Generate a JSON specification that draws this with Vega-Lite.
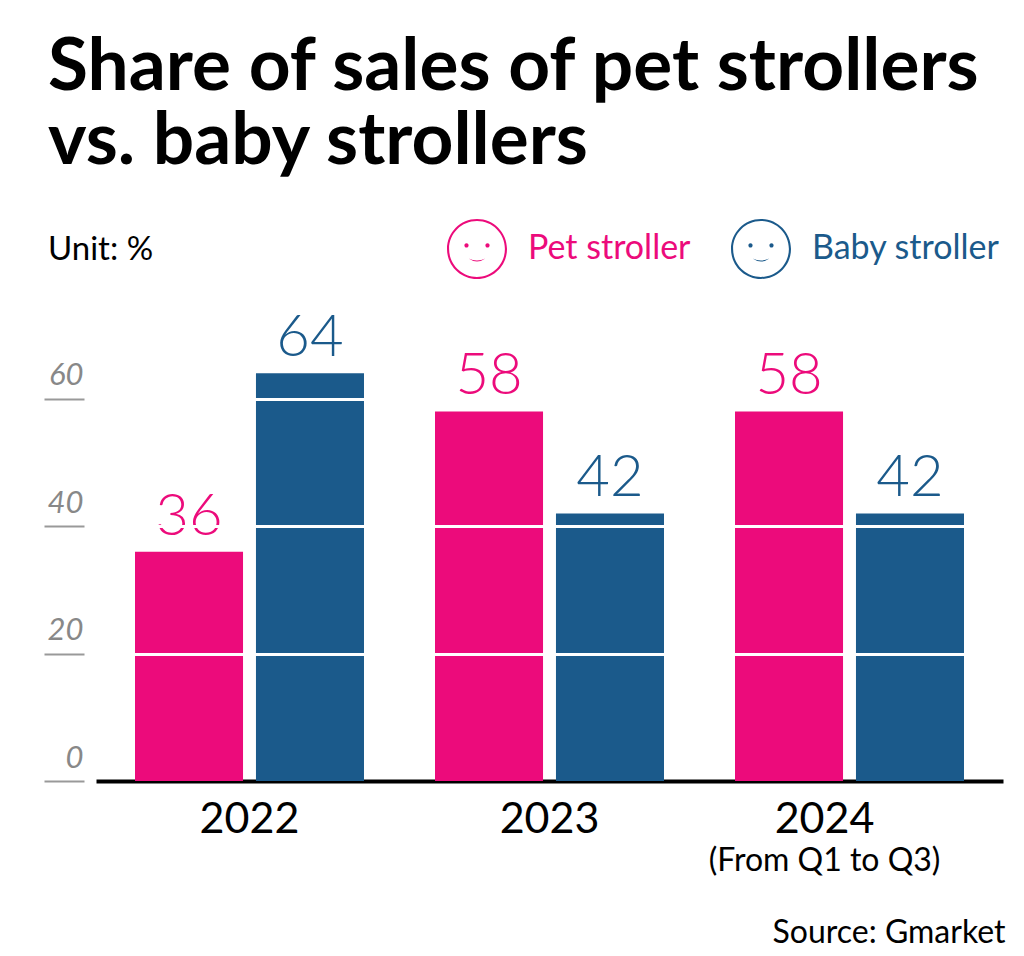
{
  "$schema": "https://vega.github.io/schema/vega-lite/v6.json",
  "autosize": {"type": "none"},
  "width": 907,
  "height": 446,
  "padding": {"left": 96, "top": 335, "right": 21, "bottom": 175},
  "background": "white",
  "title": {
    "text": ["Share of sales of pet strollers", "vs. baby strollers"],
    "subtitle": "Unit: %",
    "anchor": "start",
    "frame": "group",
    "dx": -48,
    "dy": 52,
    "font": "Lato",
    "fontSize": 73,
    "fontWeight": "bold",
    "lineHeight": 74,
    "color": "black",
    "subtitleFont": "Lato",
    "subtitleFontSize": 33,
    "subtitleColor": "black",
    "subtitlePadding": 55
  },
  "data": {
    "values": [
      {"year": "2022", "type": "Pet stroller", "value": 36},
      {"year": "2022", "type": "Baby stroller", "value": 64},
      {"year": "2023", "type": "Pet stroller", "value": 58},
      {"year": "2023", "type": "Baby stroller", "value": 42},
      {"year": "2024", "type": "Pet stroller", "value": 58},
      {"year": "2024", "type": "Baby stroller", "value": 42}
    ]
  },
  "layer": [
    {
      "mark": {"type": "bar"},
      "encoding": {
        "x": {
          "field": "year",
          "type": "nominal",
          "scale": {"paddingInner": 0.2367, "paddingOuter": 0.13},
          "axis": {
            "orient": "bottom",
            "title": null,
            "domainColor": "black",
            "domainWidth": 4,
            "ticks": false,
            "labelAngle": 0,
            "labelFont": "Lato",
            "labelFontSize": 43,
            "labelColor": "black",
            "labelPadding": 17,
            "labelOffset": {"condition": {"test": "datum.value == '2024'", "value": -25}, "value": 0}
          }
        },
        "xOffset": {
          "field": "type",
          "type": "nominal",
          "sort": ["Pet stroller", "Baby stroller"],
          "scale": {"paddingInner": 0.107, "paddingOuter": 0}
        },
        "y": {
          "field": "value",
          "type": "quantitative",
          "scale": {"domain": [0, 70], "nice": false},
          "axis": {
            "title": null,
            "values": [0, 20, 40, 60],
            "domain": false,
            "offset": 12,
            "tickSize": 40,
            "tickWidth": 2,
            "tickColor": "#999999",
            "labelFont": "Lato",
            "labelFontStyle": "italic",
            "labelFontSize": 31,
            "labelColor": "#888888",
            "labelAlign": "right",
            "labelBaseline": "alphabetic",
            "labelOffset": -14,
            "labelPadding": -39,
            "grid": true,
            "gridColor": {"condition": {"test": "datum.value === 0", "value": "transparent"}, "value": "white"},
            "gridWidth": 3,
            "zindex": 1
          }
        },
        "color": {
          "field": "type",
          "type": "nominal",
          "sort": ["Pet stroller", "Baby stroller"],
          "scale": {"domain": ["Pet stroller", "Baby stroller"], "range": ["#EC0B7B", "#1B5A8B"]},
          "legend": {
            "title": null,
            "orient": "none",
            "direction": "horizontal",
            "legendX": 351,
            "legendY": -116,
            "symbolType": "M-1,0A1,1,0,1,1,1,0A1,1,0,1,1,-1,0Z M-0.93,0A0.93,0.93,0,1,0,0.93,0A0.93,0.93,0,1,0,-0.93,0Z M-0.42,-0.12A0.07,0.07,0,1,1,-0.28,-0.12A0.07,0.07,0,1,1,-0.42,-0.12Z M0.28,-0.12A0.07,0.07,0,1,1,0.42,-0.12A0.07,0.07,0,1,1,0.28,-0.12Z M-0.28,0.32Q0,0.52,0.28,0.32Q0,0.45,-0.28,0.32Z",
            "symbolSize": 3600,
            "symbolStrokeWidth": 0,
            "labelFont": "Lato",
            "labelFontSize": 34,
            "labelOffset": 21,
            "labelLimit": 400,
            "columnPadding": 40,
            "encode": {
              "labels": {"update": {"fill": {"scale": "color", "field": "value"}}}
            }
          }
        }
      }
    },
    {
      "mark": {"type": "text", "font": "Lato", "fontSize": 58, "fontWeight": 300, "baseline": "alphabetic", "dy": -17},
      "encoding": {
        "x": {
          "field": "year",
          "type": "nominal",
          "axis": {
            "orient": "bottom",
            "domain": false,
            "ticks": false,
            "labelAngle": 0,
            "labelExpr": "datum.value == '2024' ? '(From Q1 to Q3)' : ''",
            "labelFont": "Lato",
            "labelFontSize": 32,
            "labelColor": "black",
            "labelPadding": 64,
            "labelOffset": -25,
            "labelLimit": 400,
            "title": "Source: Gmarket",
            "titleFont": "Lato",
            "titleFontSize": 32,
            "titleFontWeight": "normal",
            "titleColor": "black",
            "titleAlign": "right",
            "titleAnchor": "end",
            "titleBaseline": "alphabetic",
            "titleX": 909,
            "titleY": 161
          }
        },
        "xOffset": {"field": "type", "type": "nominal", "sort": ["Pet stroller", "Baby stroller"]},
        "y": {"field": "value", "type": "quantitative"},
        "text": {"field": "value", "type": "quantitative"},
        "color": {
          "condition": {"test": "datum.type === 'Pet stroller'", "value": "#EC0B7B"},
          "value": "#1B5A8B"
        }
      }
    }
  ],
  "resolve": {"axis": {"x": "independent"}},
  "config": {"view": {"stroke": null}}
}
